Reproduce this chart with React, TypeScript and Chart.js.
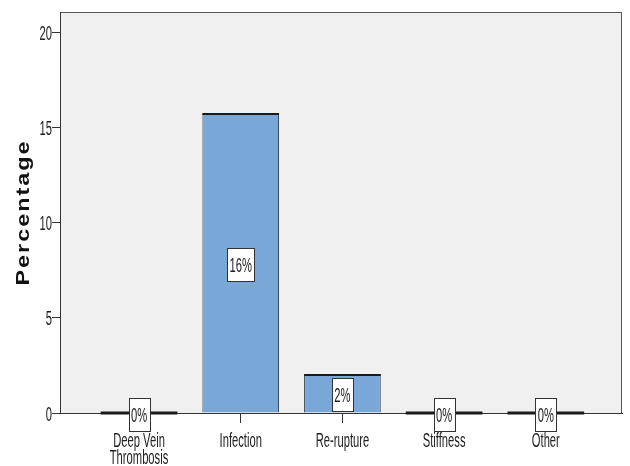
import React, { useEffect, useRef } from "react";
import { Chart, registerables } from "chart.js";

Chart.register(...registerables);

const categories: string[][] = [["Deep Vein", "Thrombosis"], ["Infection"], ["Re-rupture"], ["Stiffness"], ["Other"]];
const percentages = [0, 15.7, 2.0, 0, 0];
const barLabels = ["0%", "16%", "2%", "0%", "0%"];
const yTicks = [0, 5, 10, 15, 20];
const yTitle = "Percentage";

const FONT = "'Liberation Sans', Arial, sans-serif";
const TICK_SIZE = 20;
const SQUEEZE = 0.56;

function narrowText(ctx: any, text: string, x: number, y: number, align: "left" | "center" | "right") {
  ctx.save();
  ctx.translate(x, y);
  ctx.scale(SQUEEZE, 1);
  ctx.textAlign = align;
  ctx.textBaseline = "middle";
  ctx.fillText(text, 0, 0);
  ctx.restore();
}

const bgPlugin = {
  id: "bgPlugin",
  beforeDraw(chart: any) {
    const { ctx, chartArea } = chart;
    ctx.save();
    ctx.fillStyle = "#f0f0f0";
    ctx.fillRect(chartArea.left, chartArea.top, chartArea.right - chartArea.left, chartArea.bottom - chartArea.top);
    ctx.strokeStyle = "#555";
    ctx.lineWidth = 1;
    ctx.strokeRect(chartArea.left + 0.5, chartArea.top + 0.5, chartArea.right - chartArea.left - 1, chartArea.bottom - chartArea.top);
    ctx.restore();
  },
};

const textPlugin = {
  id: "textPlugin",
  afterDraw(chart: any) {
    const { ctx, chartArea } = chart;
    const xs = chart.scales.x;
    const ys = chart.scales.y;
    ctx.save();
    ctx.fillStyle = "#222";
    ctx.font = `${TICK_SIZE}px ${FONT}`;
    yTicks.forEach((v) => {
      narrowText(ctx, String(v), chartArea.left - 8, ys.getPixelForValue(v) + 2, "right");
    });
    categories.forEach((lines, i) => {
      const x = xs.getPixelForValue(i);
      lines.forEach((line, j) => {
        narrowText(ctx, line, x, chartArea.bottom + 28 + j * 17, "center");
      });
    });
    ctx.font = `bold 18px ${FONT}`;
    (ctx as any).letterSpacing = "1.5px";
    const w = ctx.measureText(yTitle).width;
    const stretch = 146 / w;
    ctx.translate(chartArea.left - 31, (chartArea.top + chartArea.bottom) / 2);
    ctx.rotate(-Math.PI / 2);
    ctx.scale(stretch, 1);
    ctx.textAlign = "center";
    ctx.textBaseline = "alphabetic";
    ctx.fillStyle = "#111";
    ctx.fillText(yTitle, 0, 0);
    ctx.restore();
  },
  afterDatasetsDraw(chart: any) {
    const { ctx } = chart;
    const meta = chart.getDatasetMeta(0);
    ctx.save();
    meta.data.forEach((bar: any, i: number) => {
      const { x, y, base, width } = bar.getProps(["x", "y", "base", "width"], true);
      ctx.strokeStyle = "#1a1a1a";
      ctx.lineWidth = percentages[i] === 0 ? 3 : 2;
      ctx.beginPath();
      ctx.moveTo(x - width / 2, y);
      ctx.lineTo(x + width / 2, y);
      ctx.stroke();
      const cy = (y + base) / 2 + 1;
      ctx.font = `${TICK_SIZE}px ${FONT}`;
      const tw = ctx.measureText(barLabels[i]).width * SQUEEZE;
      const bw = Math.round(tw + 5);
      const bh = 33;
      const bx = Math.round(x - bw / 2);
      const by = Math.round(cy - bh / 2);
      ctx.fillStyle = "#ffffff";
      ctx.fillRect(bx, by, bw, bh);
      ctx.strokeStyle = "#333";
      ctx.lineWidth = 1;
      ctx.strokeRect(bx + 0.5, by + 0.5, bw, bh);
      ctx.fillStyle = "#222";
      narrowText(ctx, barLabels[i], x, cy + 2, "center");
    });
    ctx.restore();
  },
};

export default function App() {
  const ref = useRef<HTMLCanvasElement>(null);
  useEffect(() => {
    if (!ref.current) return;
    const chart = new Chart(ref.current, {
      type: "bar",
      data: {
        datasets: [
          {
            data: percentages.map((v, i) => ({ x: i, y: v })),
            backgroundColor: "#79a8d8",
            borderColor: "#2b3a4a",
            borderWidth: 1,
            barPercentage: 0.754,
            categoryPercentage: 1,
          },
        ],
      },
      options: {
        animation: false,
        responsive: false,
        layout: { padding: { top: 12, right: 8, left: 0, bottom: 0 } },
        plugins: { legend: { display: false }, tooltip: { enabled: false } },
        scales: {
          x: {
            type: "linear",
            offset: false,
            min: -0.777,
            max: 4.749,
            afterBuildTicks: (scale: any) => {
              scale.ticks = categories.map((_, i) => ({ value: i }));
            },
            afterFit: (scale: any) => {
              scale.height = 53;
            },
            grid: { display: true, offset: false, drawOnChartArea: false, tickLength: 10, color: "#333" },
            border: { display: true, color: "#333", width: 1 },
            ticks: { color: "rgba(0,0,0,0)", autoSkip: false, maxRotation: 0, font: { size: 10 } },
          },
          y: {
            min: 0,
            max: 21.05,
            afterBuildTicks: (scale: any) => {
              scale.ticks = yTicks.map((v) => ({ value: v }));
            },
            afterFit: (scale: any) => {
              scale.width = 60;
            },
            grid: { display: true, drawOnChartArea: false, tickLength: 8, color: "#333" },
            border: { display: true, color: "#333", width: 1 },
            ticks: { color: "rgba(0,0,0,0)", font: { size: 10 } },
          },
        },
      },
      plugins: [bgPlugin, textPlugin],
    });
    return () => chart.destroy();
  }, []);
  return (
    <div style={{ position: "fixed", left: 0, top: 0, width: 630, height: 466, background: "#fff" }}>
      <canvas ref={ref} width={630} height={466} style={{ width: 630, height: 466 }} />
    </div>
  );
}
